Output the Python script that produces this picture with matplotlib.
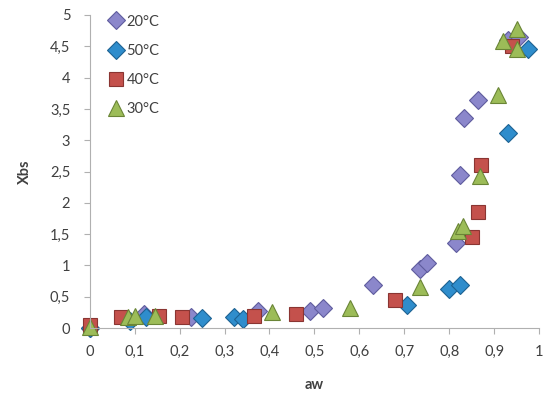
import matplotlib.pyplot as plt
from matplotlib.ticker import FuncFormatter, MultipleLocator

plt.rcParams['font.family'] = ['Lato', 'DejaVu Sans']

# sorption data: water activity vs equilibrium moisture content
aw_20 = [0.0, 0.12, 0.225, 0.375, 0.49, 0.52, 0.63, 0.735, 0.75, 0.815, 0.825, 0.833, 0.863, 0.93, 0.955]
xbs_20 = [0.0, 0.22, 0.18, 0.27, 0.28, 0.32, 0.68, 0.94, 1.04, 1.36, 2.44, 3.35, 3.64, 4.6, 4.65]

aw_50 = [0.0, 0.09, 0.125, 0.25, 0.32, 0.34, 0.705, 0.8, 0.825, 0.93, 0.975]
xbs_50 = [0.0, 0.12, 0.17, 0.16, 0.18, 0.15, 0.37, 0.62, 0.68, 3.12, 4.46]

aw_40 = [0.0, 0.07, 0.155, 0.205, 0.365, 0.46, 0.68, 0.85, 0.865, 0.87, 0.94]
xbs_40 = [0.05, 0.18, 0.2, 0.18, 0.2, 0.22, 0.45, 1.46, 1.86, 2.6, 4.5]

aw_30 = [0.0, 0.085, 0.1, 0.145, 0.405, 0.58, 0.735, 0.82, 0.83, 0.868, 0.908, 0.92, 0.95, 0.95]
xbs_30 = [0.02, 0.18, 0.2, 0.2, 0.25, 0.32, 0.66, 1.55, 1.63, 2.43, 3.72, 4.58, 4.78, 4.45]

series = [
    ("20°C", aw_20, xbs_20, 'D', 9.5, '#8b87cb', '#5f5c9e'),
    ("50°C", aw_50, xbs_50, 'D', 9.5, '#2f8dcc', '#1d6292'),
    ("40°C", aw_40, xbs_40, 's', 10, '#c4514c', '#8a3532'),
    ("30°C", aw_30, xbs_30, '^', 11.5, '#9cbc58', '#6a8536'),
]

fig = plt.figure(figsize=(5.44, 4.05), dpi=100)
ax = fig.add_axes([0.165, 0.19, 0.826, 0.773])

for label, x, y, mk, ms, fc, ec in series:
    ax.plot(x, y, linestyle='none', marker=mk, markersize=ms,
            markerfacecolor=fc, markeredgecolor=ec, markeredgewidth=0.8,
            label=label, clip_on=False)

ax.set_xlim(0, 1)
ax.set_ylim(0, 5)
ax.xaxis.set_major_locator(MultipleLocator(0.1))
ax.yaxis.set_major_locator(MultipleLocator(0.5))

comma = FuncFormatter(lambda v, p: f"{v:g}".replace('.', ','))
ax.xaxis.set_major_formatter(comma)
ax.yaxis.set_major_formatter(comma)

for side in ('top', 'right'):
    ax.spines[side].set_visible(False)
for side in ('left', 'bottom'):
    ax.spines[side].set_color('#b0b0b0')
    ax.spines[side].set_linewidth(0.8)

ax.tick_params(axis='both', colors='#b0b0b0', labelcolor='#404040',
               labelsize=10.5, length=4, width=0.8)
ax.tick_params(axis='x', pad=8)
ax.tick_params(axis='y', pad=10)

ax.set_xlabel("aw", fontsize=10.5, fontweight='bold', color='#404040', labelpad=14)
ax.set_ylabel("Xbs", fontsize=10.5, fontweight='bold', color='#404040', labelpad=13)

ax.legend(loc='upper left', frameon=False, fontsize=10.5, labelspacing=1.05,
          handletextpad=0.0, handlelength=1.5, borderaxespad=0.0,
          bbox_to_anchor=(0.02, 1.02), labelcolor='#404040')

fig.savefig("out.png", dpi=100)
